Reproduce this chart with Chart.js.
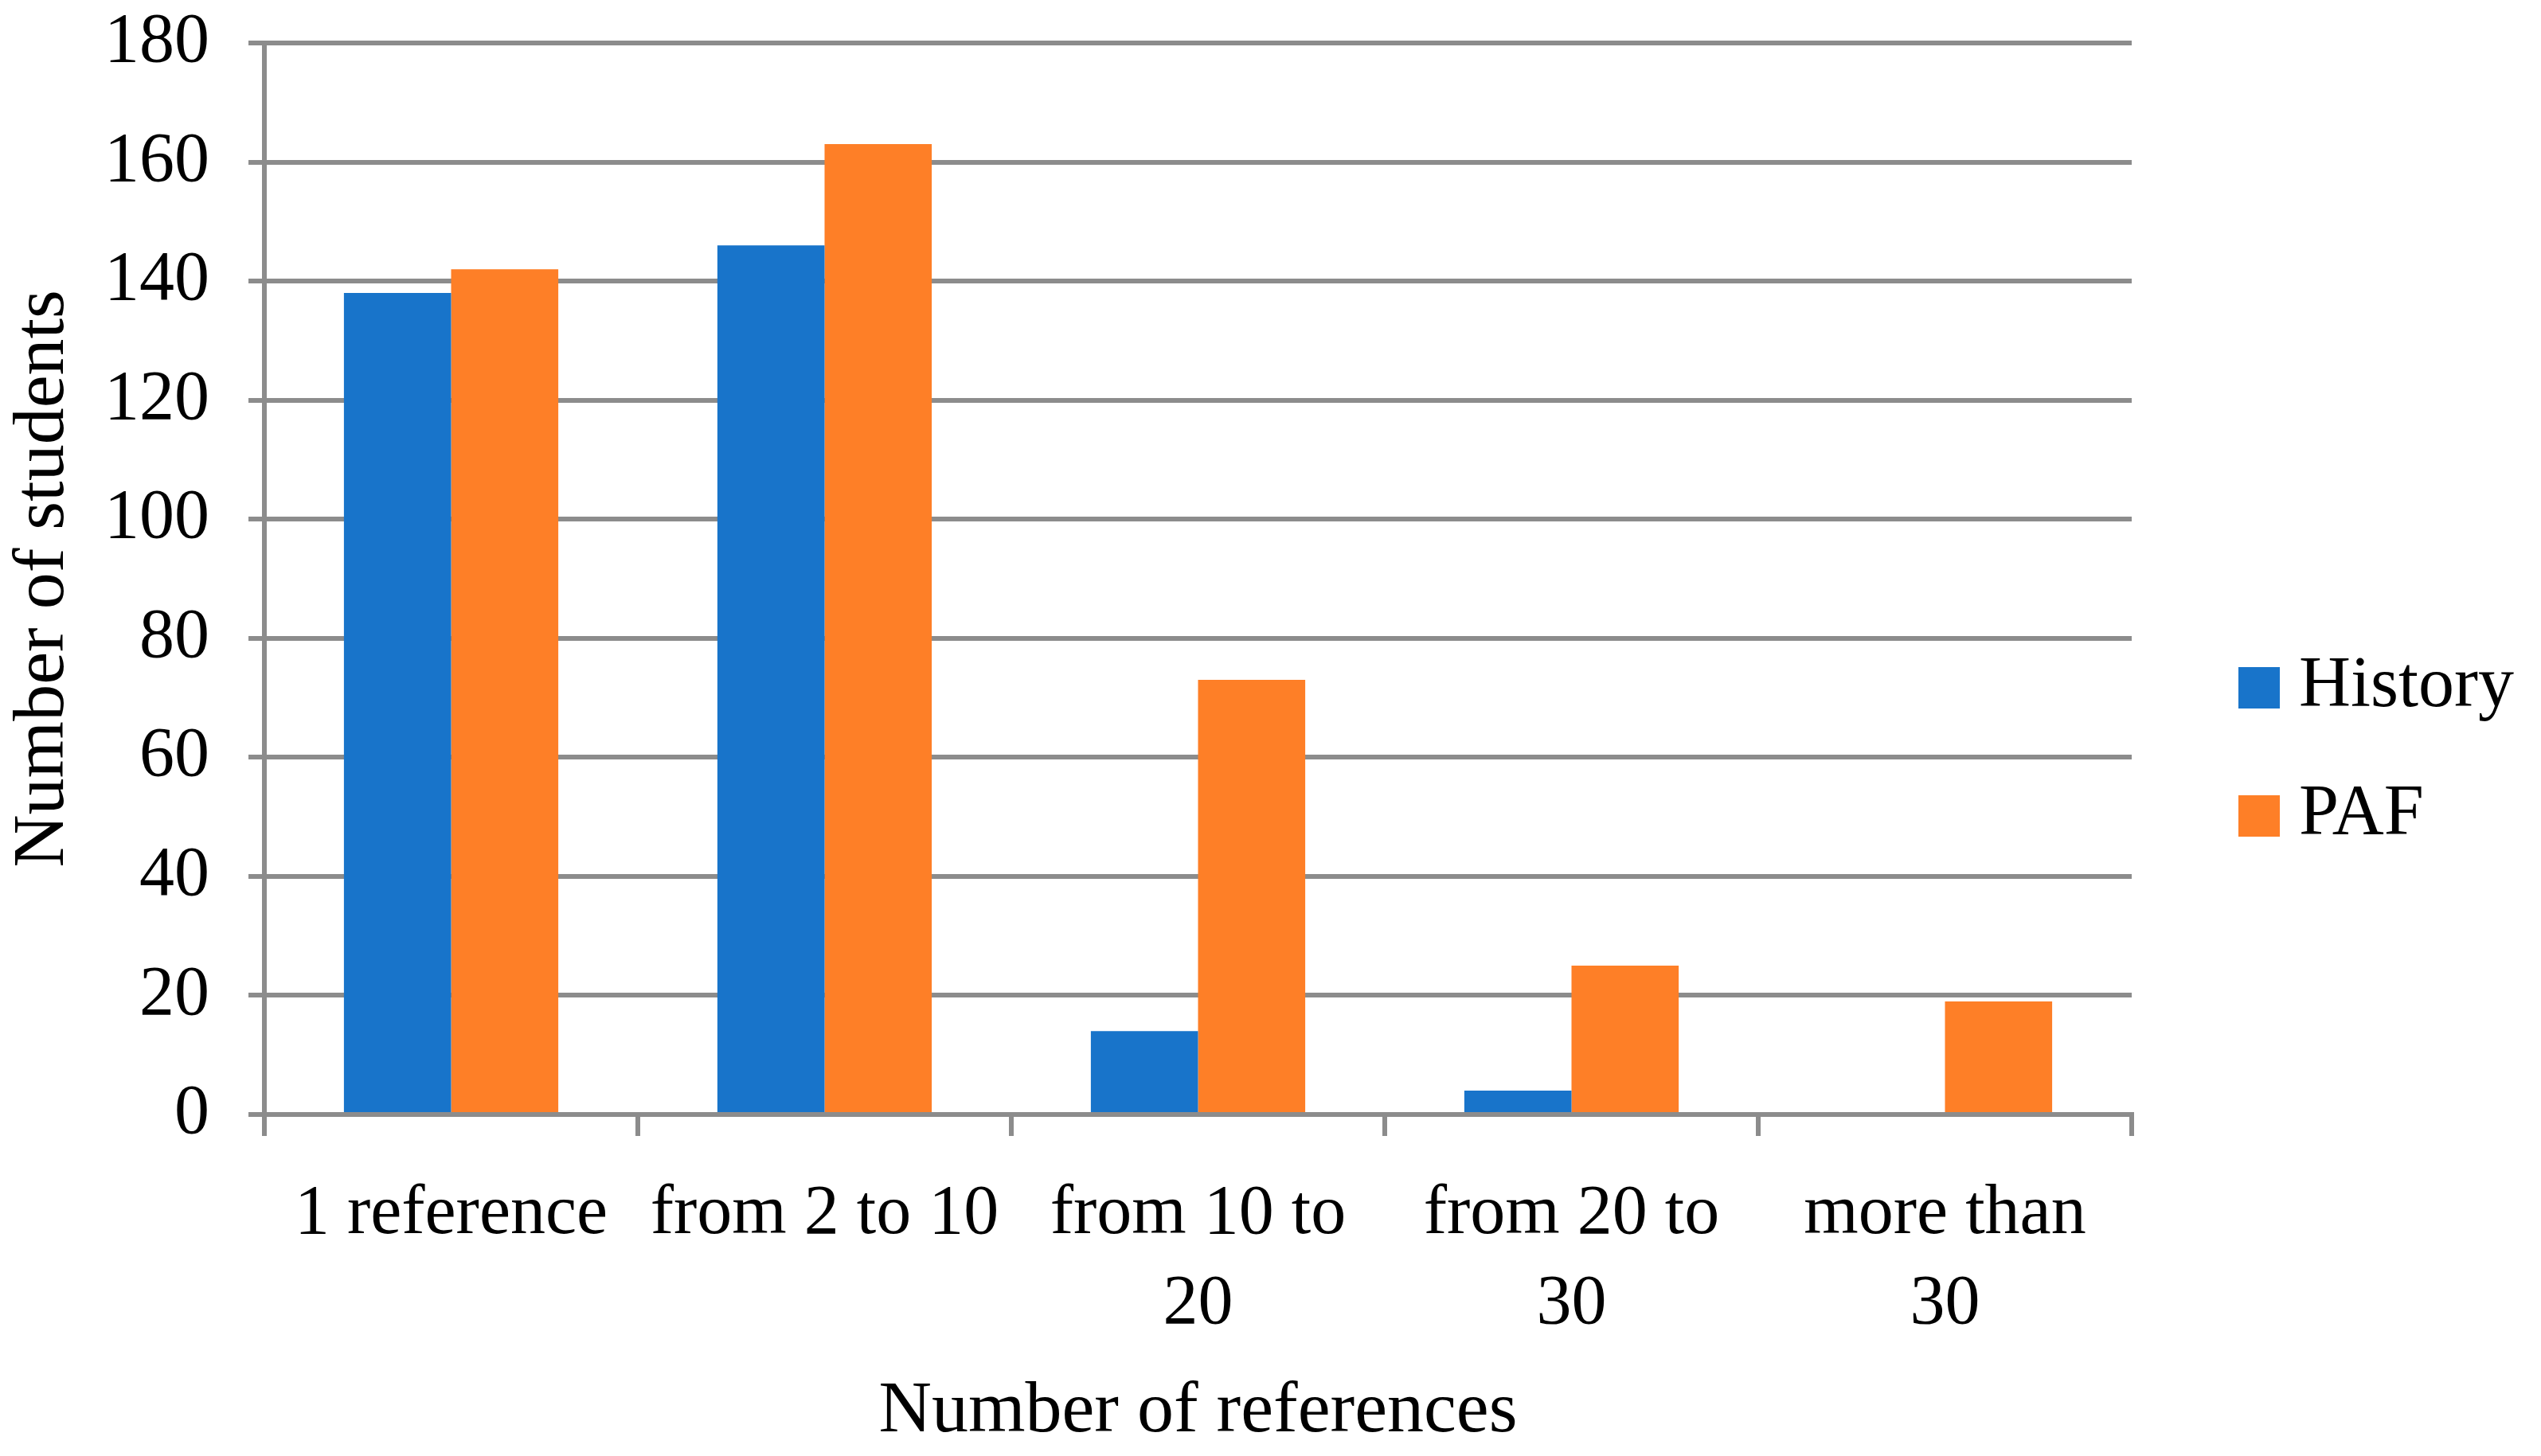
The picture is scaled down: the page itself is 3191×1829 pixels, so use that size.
<!DOCTYPE html>
<html>
<head>
<meta charset="utf-8">
<title>Number of references</title>
<script src="https://cdn.jsdelivr.net/npm/chart.js@4.4.1/dist/chart.umd.min.js"></script>
<style>
  html, body { margin: 0; padding: 0; background: #ffffff; }
  canvas { display: block; }
</style>
</head>
<body>
<canvas id="refChart" width="3191" height="1829"></canvas>
<script>
// categories and values
const categories = ['1 reference', 'from 2 to 10', ['from 10 to', '20'], ['from 20 to', '30'], ['more than', '30']];
const historyValues = [138, 146, 14, 4, 0];
const pafValues = [142, 163, 73, 25, 19];
const yTicks = [0, 20, 40, 60, 80, 100, 120, 140, 160, 180];

const GRID = '#8c8c8c';
const FONT = "'Liberation Serif', 'Times New Roman', serif";

// legend drawn to the right of the plot, like the Office original
const sideLegend = {
  id: 'sideLegend',
  afterDraw(chart) {
    const ctx = chart.ctx;
    const area = chart.chartArea;
    const rows = [838, 999];
    ctx.save();
    ctx.font = '90px ' + FONT;
    ctx.textBaseline = 'alphabetic';
    ctx.textAlign = 'left';
    chart.data.datasets.forEach(function (ds, i) {
      const x = area.right + 134;
      const y = rows[i];
      ctx.fillStyle = ds.backgroundColor;
      ctx.fillRect(x, y, 52, 52);
      ctx.fillStyle = '#000000';
      ctx.fillText(ds.label, x + 76, y + 49);
    });
    ctx.restore();
  }
};

document.addEventListener('DOMContentLoaded', function () {
  const ctx = document.getElementById('refChart');
  Chart.defaults.font.family = FONT;
  Chart.defaults.color = '#000000';

  new Chart(ctx, {
    type: 'bar',
    data: {
      labels: categories,
      datasets: [
        {
          label: 'History',
          data: historyValues,
          backgroundColor: '#1874ca',
          borderWidth: 0,
          categoryPercentage: 0.574,
          barPercentage: 1.0
        },
        {
          label: 'PAF',
          data: pafValues,
          backgroundColor: '#fe7f27',
          borderWidth: 0,
          categoryPercentage: 0.574,
          barPercentage: 1.0
        }
      ]
    },
    options: {
      responsive: false,
      devicePixelRatio: 1,
      animation: false,
      layout: {
        padding: { top: 54, right: 514, bottom: 0, left: 0 }
      },
      plugins: {
        legend: { display: false },
        title: { display: false },
        tooltip: { enabled: false }
      },
      scales: {
        x: {
          afterFit: function (scale) { scale.height = 429; },
          grid: {
            display: true,
            drawOnChartArea: false,
            drawTicks: true,
            tickLength: 27,
            offset: true,
            color: GRID,
            lineWidth: 6
          },
          border: { display: true, color: GRID, width: 6 },
          ticks: {
            autoSkip: false,
            maxRotation: 0,
            minRotation: 0,
            padding: 42,
            font: { size: 88, lineHeight: 1.284 }
          },
          title: {
            display: true,
            text: 'Number of references',
            font: { size: 92, lineHeight: 1.2 },
            padding: { top: 0, bottom: 0 }
          }
        },
        y: {
          min: 0,
          max: 180,
          afterFit: function (scale) {
            scale.width = 332;
            // tick padding would otherwise push the plot top down
            scale.paddingTop = 0;
            scale.paddingBottom = 0;
          },
          afterBuildTicks: function (scale) {
            scale.ticks = yTicks.map(function (v) { return { value: v }; });
          },
          grid: {
            color: GRID,
            lineWidth: 6,
            drawTicks: true,
            tickLength: 20
          },
          border: { display: true, color: GRID, width: 6 },
          ticks: {
            padding: 49,
            font: { size: 88, lineHeight: 1.2 }
          },
          title: {
            display: true,
            text: 'Number of students',
            font: { size: 92, lineHeight: 1.2 },
            padding: { top: 0, bottom: 0 }
          }
        }
      }
    },
    plugins: [sideLegend]
  });
});
</script>
</body>
</html>
